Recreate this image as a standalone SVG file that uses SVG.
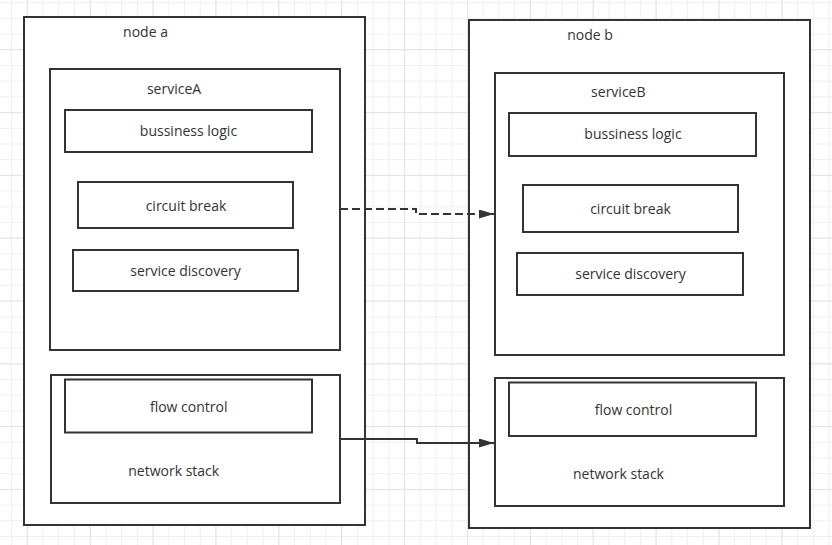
<svg xmlns="http://www.w3.org/2000/svg" width="832" height="545" viewBox="0 0 832 545">
  <defs>
    <pattern id="gridMinor" patternUnits="userSpaceOnUse" x="11.1" y="2.2" width="15.72" height="15.7">
      <path d="M0.5 0 V15.7 M0 0.5 H15.72" fill="none" stroke="#efefef" stroke-width="1"/>
    </pattern>
    <pattern id="gridMajor" patternUnits="userSpaceOnUse" x="26.8" y="49.3" width="62.88" height="62.8">
      <path d="M0.5 0 V62.8 M0 0.5 H62.88" fill="none" stroke="#e3e3e3" stroke-width="1"/>
    </pattern>
    <marker id="arrow" markerUnits="userSpaceOnUse" viewBox="0 0 15 9" markerWidth="15" markerHeight="9" refX="15" refY="4.5" orient="auto">
      <path d="M0 0 L15 4.5 L0 9 Z" fill="#333333"/>
    </marker>
    <style>
      .box { fill: #ffffff; stroke: #333333; stroke-width: 2; }
      .lbl { font-family: "Open Sans", "Liberation Sans", sans-serif; font-size: 14px; fill: #333333; text-anchor: middle; }
      .conn { fill: none; stroke: #333333; stroke-width: 2; }
      .dash { stroke-dasharray: 8 4; }
    </style>
  </defs>

  <rect x="0" y="0" width="832" height="545" fill="#ffffff"/>
  <rect x="0" y="0" width="832" height="545" fill="url(#gridMinor)"/>
  <rect x="0" y="0" width="832" height="545" fill="url(#gridMajor)"/>

  <g id="node-a">
    <rect class="box" x="24" y="17" width="341" height="508"/>
    <text class="lbl" x="145.5" y="36.5">node a</text>
    <g id="serviceA">
      <rect class="box" x="50" y="69" width="290" height="281"/>
      <text class="lbl" x="174" y="94">serviceA</text>
      <g id="a-bussiness-logic">
        <rect class="box" x="65" y="110" width="247" height="42"/>
        <text class="lbl" x="188.5" y="136">bussiness logic</text>
      </g>
      <g id="a-circuit-break">
        <rect class="box" x="78" y="182" width="215" height="46"/>
        <text class="lbl" x="186" y="211">circuit break</text>
      </g>
      <g id="a-service-discovery">
        <rect class="box" x="73" y="250" width="225" height="41"/>
        <text class="lbl" x="185.5" y="276">service discovery</text>
      </g>
    </g>
    <g id="a-network-stack">
      <rect class="box" x="51" y="375" width="289" height="128"/>
      <text class="lbl" x="173.7" y="475.5">network stack</text>
      <g id="a-flow-control">
        <rect class="box" x="65" y="379.5" width="247" height="53"/>
        <text class="lbl" x="188.7" y="411.5">flow control</text>
      </g>
    </g>
  </g>

  <g id="node-b">
    <rect class="box" x="469" y="20" width="341" height="508"/>
    <text class="lbl" x="590" y="39.5">node b</text>
    <g id="serviceB">
      <rect class="box" x="495" y="73" width="289" height="282"/>
      <text class="lbl" x="618.3" y="97">serviceB</text>
      <g id="b-bussiness-logic">
        <rect class="box" x="509" y="113" width="247" height="43"/>
        <text class="lbl" x="633" y="139">bussiness logic</text>
      </g>
      <g id="b-circuit-break">
        <rect class="box" x="523" y="185" width="215" height="47"/>
        <text class="lbl" x="630.5" y="214">circuit break</text>
      </g>
      <g id="b-service-discovery">
        <rect class="box" x="517" y="253" width="226" height="42"/>
        <text class="lbl" x="630.5" y="279">service discovery</text>
      </g>
    </g>
    <g id="b-network-stack">
      <rect class="box" x="495" y="378" width="289" height="128"/>
      <text class="lbl" x="618.5" y="478.5">network stack</text>
      <g id="b-flow-control">
        <rect class="box" x="509" y="382.5" width="247" height="53.5"/>
        <text class="lbl" x="633.5" y="414.5">flow control</text>
      </g>
    </g>
  </g>

  <g id="connectors">
    <path class="conn dash" d="M340 209 H416 V214 H494" marker-end="url(#arrow)"/>
    <path class="conn" d="M340 439 H417 V443 H494" marker-end="url(#arrow)"/>
  </g>
</svg>
